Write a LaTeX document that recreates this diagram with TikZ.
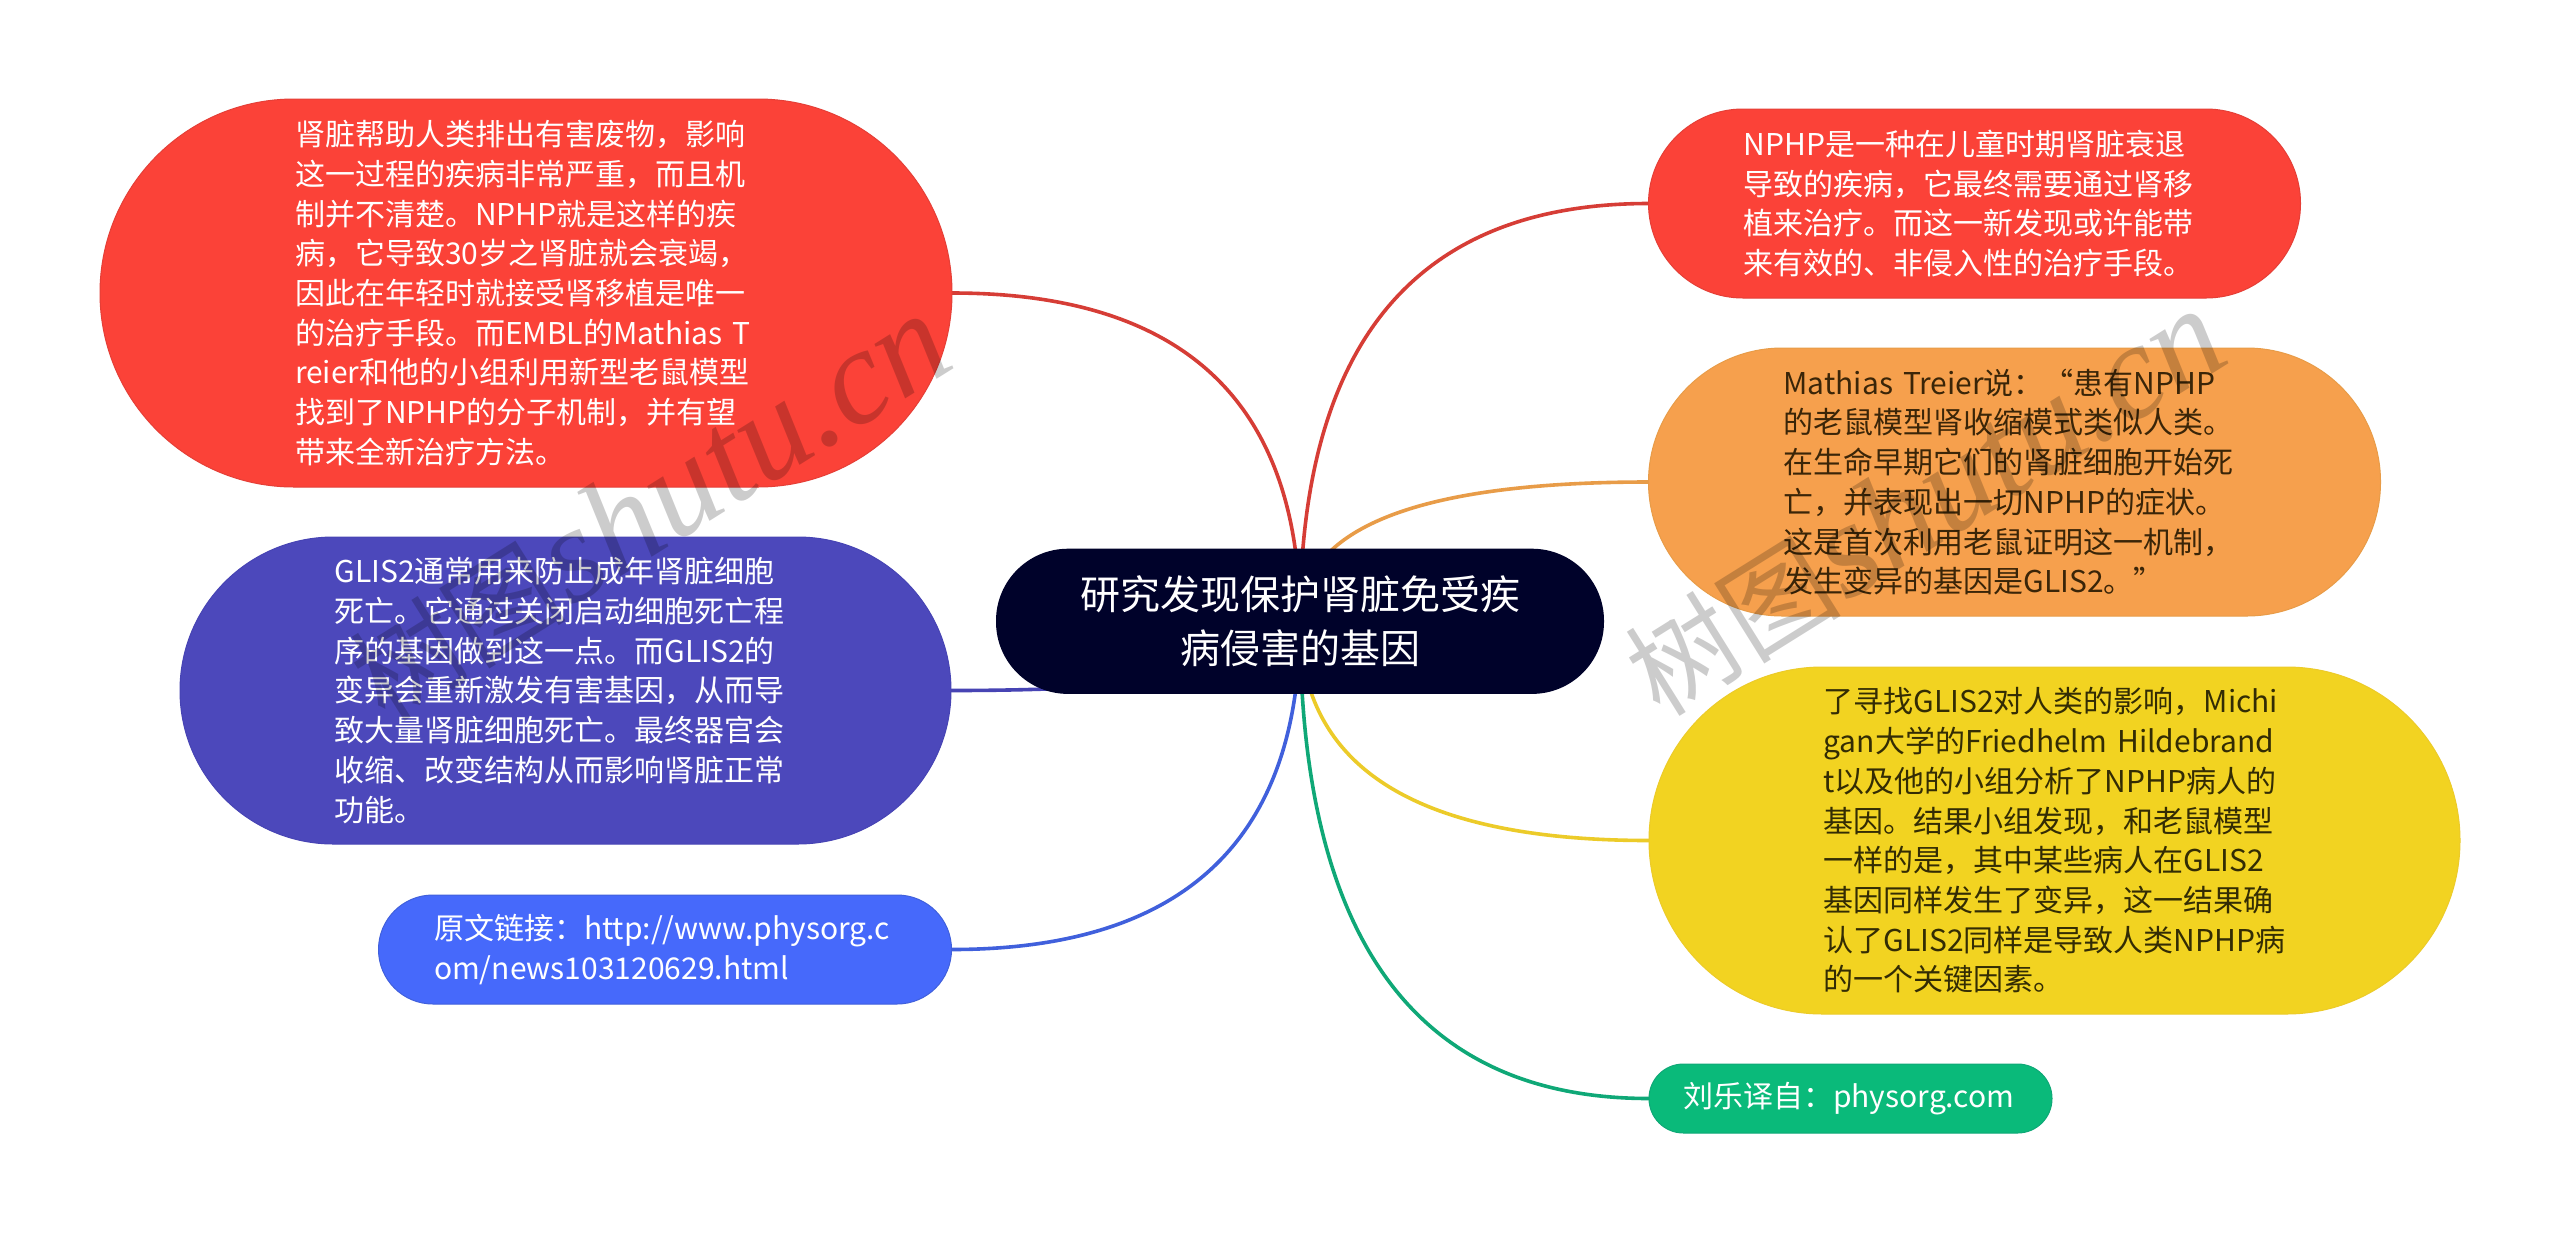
\documentclass[tikz,border=0pt]{standalone}
\usepackage{fontspec}
\setmainfont{Noto Sans CJK SC}
\newfontfamily\wmlatin{Liberation Serif}
\usetikzlibrary{calc,backgrounds}
\definecolor{cRedF}{HTML}{FB4238}
\definecolor{cRedL}{HTML}{D63D36}
\definecolor{cPurF}{HTML}{4C48BB}
\definecolor{cPurL}{HTML}{4744B4}
\definecolor{cBluF}{HTML}{4669FB}
\definecolor{cBluL}{HTML}{4060DC}
\definecolor{cOraF}{HTML}{F6A04D}
\definecolor{cOraL}{HTML}{E89C48}
\definecolor{cYelF}{HTML}{F2D321}
\definecolor{cYelL}{HTML}{ECCB29}
\definecolor{cGreF}{HTML}{0ABA7A}
\definecolor{cGreL}{HTML}{0FA877}
\definecolor{cNavy}{HTML}{00022A}
\definecolor{cDarkO}{HTML}{3A2508}
\definecolor{cDarkY}{HTML}{332C04}
\tikzset{
  box/.style={rectangle, inner sep=0pt, outer sep=0pt, line width=.5pt, align=left,
    text width=231pt, font=\fontsize{15pt}{19.85pt}\selectfont},
  rootbox/.style={rectangle, inner sep=0pt, outer sep=0pt, align=center, fill=cNavy, text=white,
    minimum width=304pt, minimum height=72.6pt, rounded corners=36pt,
    font=\fontsize{20pt}{27pt}\selectfont},
  conn/.style={line width=1.8pt},
  wm/.style={black, opacity=.2, inner sep=0pt, rotate=32}
}
\newcommand{\wmtext}{{\fontsize{54pt}{60pt}\selectfont 树图}\,{\fontsize{68pt}{60pt}\selectfont\wmlatin\itshape shutu.cn}}
\begin{document}
\begin{tikzpicture}[x=.5pt,y=-.5pt]
\useasboundingbox (0,0) rectangle (2560,1233);
\node[rootbox] (root) at (1300,621.3) {研究发现保护肾脏免受疾\\病侵害的基因};
\node[box,fill=cRedF,draw=cRedL!60!cRedF,text=white,minimum width=426pt,minimum height=194pt,rounded corners=97pt] (a) at (526,293)
 {肾脏帮助人类排出有害废物，影响\\这一过程的疾病非常严重，而且机\\制并不清楚。NPHP就是这样的疾\\病，它导致30岁之肾脏就会衰竭，\\因此在年轻时就接受肾移植是唯一\\的治疗手段。而EMBL的Mathias T\\reier和他的小组利用新型老鼠模型\\找到了NPHP的分子机制，并有望\\带来全新治疗方法。};
\node[box,fill=cPurF,draw=cPurL,text=white,minimum width=385.5pt,minimum height=153.5pt,rounded corners=76.7pt] (b) at (565.5,690.5)
 {GLIS2通常用来防止成年肾脏细胞\\死亡。它通过关闭启动细胞死亡程\\序的基因做到这一点。而GLIS2的\\变异会重新激发有害基因，从而导\\致大量肾脏细胞死亡。最终器官会\\收缩、改变结构从而影响肾脏正常\\功能。};
\node[box,fill=cBluF,draw=cBluL,text=white,minimum width=286.5pt,minimum height=54.5pt,rounded corners=27.2pt] (c) at (665,949.5)
 {原文链接：http://www.physorg.c\\om/news103120629.html};
\node[box,fill=cRedF,draw=cRedL!60!cRedF,text=white,minimum width=326pt,minimum height=94.5pt,rounded corners=47.2pt] (d) at (1974.5,203.5)
 {NPHP是一种在儿童时期肾脏衰退\\导致的疾病，它最终需要通过肾移\\植来治疗。而这一新发现或许能带\\来有效的、非侵入性的治疗手段。};
\node[box,fill=cOraF,draw=cOraL,text=cDarkO,minimum width=366pt,minimum height=134pt,rounded corners=66.9pt] (e) at (2014.5,482)
 {Mathias Treier说：“患有NPHP\\的老鼠模型肾收缩模式类似人类。\\在生命早期它们的肾脏细胞开始死\\亡，并表现出一切NPHP的症状。\\这是首次利用老鼠证明这一机制，\\发生变异的基因是GLIS2。”};
\node[box,fill=cYelF,draw=cYelL,text=cDarkY,minimum width=405.5pt,minimum height=173.5pt,rounded corners=86.7pt] (f) at (2054.5,840.5)
 {了寻找GLIS2对人类的影响，Michi\\gan大学的Friedhelm Hildebrand\\t以及他的小组分析了NPHP病人的\\基因。结果小组发现，和老鼠模型\\一样的是，其中某些病人在GLIS2\\基因同样发生了变异，这一结果确\\认了GLIS2同样是导致人类NPHP病\\的一个关键因素。};
\node[box,fill=cGreF,draw=cGreL,text=white,text width=167.5pt,minimum width=201.5pt,minimum height=34.5pt,rounded corners=17.2pt] (g) at (1850.5,1098.5)
 {刘乐译自：physorg.com};
\begin{scope}[on background layer]
\fill[white] (0,0) rectangle (2560,1233);
\draw[conn,cRedL] (root.center) .. controls ($(root.center)!0.6667!(root.center|-a.east)$) and ($(a.east)!0.6667!(root.center|-a.east)$) .. (a.east);
\draw[conn,cPurL] (root.center) .. controls ($(root.center)!0.6667!(root.center|-b.east)$) and ($(b.east)!0.6667!(root.center|-b.east)$) .. (b.east);
\draw[conn,cBluL] (root.center) .. controls ($(root.center)!0.6667!(root.center|-c.east)$) and ($(c.east)!0.6667!(root.center|-c.east)$) .. (c.east);
\draw[conn,cRedL] (root.center) .. controls ($(root.center)!0.6667!(root.center|-d.west)$) and ($(d.west)!0.6667!(root.center|-d.west)$) .. (d.west);
\draw[conn,cOraL] (root.center) .. controls ($(root.center)!0.6667!(root.center|-e.west)$) and ($(e.west)!0.6667!(root.center|-e.west)$) .. (e.west);
\draw[conn,cYelL] (root.center) .. controls ($(root.center)!0.6667!(root.center|-f.west)$) and ($(f.west)!0.6667!(root.center|-f.west)$) .. (f.west);
\draw[conn,cGreL] (root.center) .. controls ($(root.center)!0.6667!(root.center|-g.west)$) and ($(g.west)!0.6667!(root.center|-g.west)$) .. (g.west);
\end{scope}
\node[wm] (wm1) at (650,508) {\wmtext};
\node[wm] (wm2) at (1925,503) {\wmtext};
\end{tikzpicture}
\end{document}
